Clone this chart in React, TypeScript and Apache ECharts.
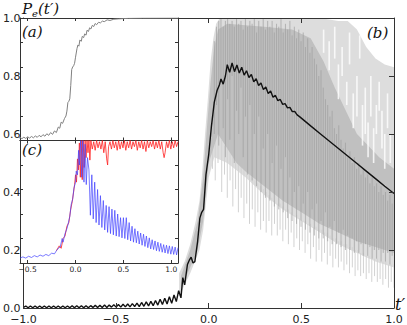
import React, { useEffect, useRef } from "react";
import * as echarts from "echarts";

// ---------- main panel (b) ----------
const mainXTicks = [-1.0, -0.5, 0.0, 0.5, 1.0];
const mainYTicks = [0.0, 0.2, 0.4, 0.6, 0.8, 1.0];

// mean curve (black)
const blackLine: number[][] = [
  [-1.0, 0.002], [-0.9875, 0.007], [-0.975, 0.001], [-0.9625, 0.007], [-0.95, 0.001], [-0.9375, 0.007],
  [-0.925, 0.001], [-0.9125, 0.007], [-0.9, 0.001], [-0.8875, 0.007], [-0.875, 0.001], [-0.8625, 0.007],
  [-0.85, 0.001], [-0.8375, 0.007], [-0.825, 0.001], [-0.8125, 0.007], [-0.8, 0.001], [-0.7875, 0.007],
  [-0.775, 0.001], [-0.7625, 0.007], [-0.75, 0.001], [-0.7375, 0.008], [-0.725, 0.001], [-0.7125, 0.008],
  [-0.7, 0.001], [-0.6875, 0.008], [-0.675, 0.001], [-0.6625, 0.008], [-0.65, 0.001], [-0.6375, 0.008],
  [-0.625, 0.002], [-0.6125, 0.009], [-0.6, 0.002], [-0.5875, 0.009], [-0.575, 0.002], [-0.5625, 0.010],
  [-0.55, 0.002], [-0.5375, 0.010], [-0.525, 0.003], [-0.5125, 0.011], [-0.5, 0.003], [-0.4875, 0.012],
  [-0.475, 0.003], [-0.4625, 0.013], [-0.45, 0.004], [-0.4375, 0.014], [-0.425, 0.004], [-0.4125, 0.015],
  [-0.4, 0.005], [-0.3875, 0.017], [-0.375, 0.005], [-0.3625, 0.019], [-0.35, 0.006], [-0.3375, 0.021],
  [-0.325, 0.007], [-0.3125, 0.023], [-0.3, 0.008], [-0.2875, 0.026], [-0.275, 0.010], [-0.2625, 0.030],
  [-0.25, 0.012], [-0.2375, 0.034], [-0.225, 0.014], [-0.2125, 0.039], [-0.2, 0.016], [-0.1875, 0.045],
  [-0.175, 0.022], [-0.1625, 0.06], [-0.15, 0.035], [-0.14, 0.105], [-0.13, 0.08], [-0.115, 0.15],
  [-0.105, 0.165], [-0.095, 0.175], [-0.085, 0.155], [-0.075, 0.16], [-0.06, 0.23], [-0.048, 0.31],
  [-0.038, 0.33], [-0.028, 0.34], [-0.015, 0.46], [0.0, 0.53], [0.015, 0.63], [0.03, 0.71],
  [0.045, 0.75], [0.058, 0.77], [0.066, 0.79], [0.078, 0.772], [0.09, 0.80], [0.1, 0.839],
  [0.113, 0.813], [0.126, 0.845], [0.139, 0.815], [0.152, 0.838], [0.165, 0.81], [0.178, 0.83],
  [0.191, 0.803], [0.204, 0.818], [0.217, 0.795], [0.23, 0.805], [0.243, 0.78], [0.256, 0.791],
  [0.269, 0.767], [0.282, 0.776], [0.295, 0.753], [0.308, 0.762], [0.321, 0.74], [0.334, 0.748],
  [0.347, 0.727], [0.36, 0.733], [0.373, 0.715], [0.386, 0.719], [0.399, 0.702], [0.412, 0.705],
  [0.425, 0.69], [0.438, 0.692], [0.451, 0.677], [0.464, 0.678], [0.477, 0.666], [0.49, 0.66],
  [0.55, 0.628], [0.6, 0.602], [0.65, 0.576], [0.7, 0.55], [0.75, 0.524], [0.8, 0.498],
  [0.85, 0.472], [0.9, 0.446], [0.95, 0.42], [1.0, 0.395],
];

// outline of the cloud of individual trajectories
const lightUpper: number[][] = [
  [-0.16, 0.12], [-0.13, 0.16], [-0.1, 0.22], [-0.07, 0.3], [-0.05, 0.37], [-0.035, 0.47], [-0.02, 0.6],
  [-0.005, 0.72], [0.01, 0.85], [0.025, 0.93], [0.04, 0.98], [0.06, 1.0], [0.6, 1.0], [0.7, 0.99],
  [0.75, 0.99], [0.8, 0.96], [0.85, 0.9], [0.9, 0.86], [0.95, 0.84], [1.0, 0.83],
];
const lightLower: number[][] = [
  [-0.16, 0.04], [-0.1, 0.12], [-0.05, 0.2], [-0.03, 0.27], [0.0, 0.45], [0.03, 0.52], [0.1, 0.5],
  [0.2, 0.45], [0.3, 0.39], [0.4, 0.34], [0.5, 0.3], [0.6, 0.26], [0.7, 0.22], [0.8, 0.19],
  [0.9, 0.16], [1.0, 0.14],
];
const midUpper: number[][] = [
  [-0.15, 0.11], [-0.1, 0.2], [-0.06, 0.3], [-0.03, 0.45], [-0.01, 0.62], [0.01, 0.78], [0.03, 0.9],
  [0.05, 0.96], [0.1, 0.98], [0.3, 0.97], [0.45, 0.96], [0.55, 0.93], [0.62, 0.85], [0.68, 0.76],
  [0.74, 0.68], [0.8, 0.6], [0.86, 0.56], [0.92, 0.52], [1.0, 0.48],
];
const midLower: number[][] = [
  [-0.15, 0.07], [-0.1, 0.14], [-0.06, 0.2], [-0.03, 0.3], [0.0, 0.5], [0.05, 0.6], [0.1, 0.55],
  [0.15, 0.5], [0.2, 0.47], [0.3, 0.42], [0.4, 0.37], [0.5, 0.33], [0.6, 0.29], [0.7, 0.26],
  [0.8, 0.23], [0.9, 0.21], [1.0, 0.19],
];
// dense vertical streaks [t, low, high]
const darkStreaks: number[][] = [
  [0.03, 0.6, 0.92], [0.042, 0.7, 0.97], [0.054, 0.56, 0.99], [0.066, 0.78, 1.0], [0.078, 0.62, 0.97],
  [0.09, 0.52, 0.99], [0.102, 0.72, 1.0], [0.114, 0.58, 0.98], [0.126, 0.8, 0.99], [0.138, 0.5, 0.97],
  [0.15, 0.68, 1.0], [0.162, 0.6, 0.98], [0.174, 0.76, 0.99], [0.186, 0.52, 0.96], [0.198, 0.66, 1.0],
  [0.21, 0.46, 0.97], [0.222, 0.7, 0.99], [0.234, 0.44, 0.98], [0.246, 0.6, 1.0], [0.258, 0.42, 0.95],
  [0.27, 0.66, 0.99], [0.282, 0.4, 0.97], [0.294, 0.55, 1.0], [0.306, 0.38, 0.96], [0.318, 0.6, 0.99],
  [0.33, 0.37, 0.97], [0.342, 0.5, 0.99], [0.354, 0.35, 0.95], [0.366, 0.56, 0.98], [0.378, 0.34, 0.97],
  [0.39, 0.48, 1.0], [0.402, 0.33, 0.95], [0.414, 0.52, 0.98], [0.426, 0.31, 0.96], [0.438, 0.45, 0.99],
  [0.45, 0.3, 0.94], [0.462, 0.4, 0.97], [0.474, 0.29, 0.93], [0.486, 0.42, 0.96], [0.498, 0.28, 0.92],
  [0.51, 0.36, 0.95], [0.522, 0.27, 0.9], [0.534, 0.4, 0.93], [0.546, 0.26, 0.88], [0.558, 0.34, 0.9],
  [0.57, 0.25, 0.86], [0.582, 0.36, 0.84], [0.594, 0.24, 0.8], [0.606, 0.3, 0.82], [0.618, 0.24, 0.76],
  [0.63, 0.33, 0.72], [0.642, 0.23, 0.7], [0.654, 0.28, 0.66], [0.666, 0.22, 0.68], [0.678, 0.3, 0.62],
  [0.69, 0.22, 0.6], [0.702, 0.26, 0.63], [0.714, 0.21, 0.58], [0.726, 0.27, 0.55], [0.738, 0.2, 0.57],
  [0.75, 0.25, 0.52], [0.762, 0.2, 0.54], [0.774, 0.24, 0.5], [0.786, 0.19, 0.52], [0.798, 0.23, 0.48],
  [0.81, 0.19, 0.5], [0.822, 0.22, 0.46], [0.834, 0.18, 0.48], [0.846, 0.22, 0.45], [0.858, 0.18, 0.46],
  [0.87, 0.21, 0.43], [0.882, 0.17, 0.45], [0.894, 0.2, 0.42], [0.906, 0.17, 0.43], [0.918, 0.2, 0.4],
  [0.93, 0.16, 0.42], [0.942, 0.19, 0.39], [0.954, 0.16, 0.4], [0.966, 0.19, 0.37], [0.978, 0.15, 0.39],
  [0.99, 0.18, 0.36],
];
// faint spikes that reach down to the lowest trajectories
const lightStreaks: number[][] = [
  [0.02, 0.48, 0.6], [0.035, 0.44, 0.6], [0.05, 0.5, 0.6], [0.07, 0.4, 0.58], [0.085, 0.46, 0.56],
  [0.1, 0.38, 0.55], [0.115, 0.44, 0.55], [0.13, 0.35, 0.52], [0.145, 0.41, 0.52], [0.16, 0.33, 0.5],
  [0.175, 0.38, 0.5], [0.19, 0.31, 0.48], [0.205, 0.36, 0.48], [0.22, 0.29, 0.46], [0.235, 0.34, 0.45],
  [0.25, 0.28, 0.44], [0.265, 0.33, 0.43], [0.28, 0.27, 0.42], [0.295, 0.3, 0.41], [0.31, 0.26, 0.4],
  [0.325, 0.3, 0.39], [0.34, 0.25, 0.38], [0.355, 0.29, 0.37], [0.37, 0.25, 0.36], [0.385, 0.27, 0.36],
  [0.4, 0.23, 0.35], [0.415, 0.27, 0.34], [0.43, 0.22, 0.34], [0.445, 0.26, 0.33], [0.46, 0.21, 0.32],
  [0.475, 0.24, 0.32], [0.49, 0.2, 0.31], [0.505, 0.23, 0.3], [0.52, 0.19, 0.3], [0.535, 0.22, 0.29],
  [0.55, 0.17, 0.29], [0.565, 0.21, 0.28], [0.58, 0.16, 0.28], [0.595, 0.2, 0.27], [0.61, 0.16, 0.27],
  [0.625, 0.19, 0.26], [0.64, 0.15, 0.26], [0.655, 0.18, 0.25], [0.67, 0.14, 0.24], [0.685, 0.17, 0.24],
  [0.7, 0.14, 0.23], [0.715, 0.16, 0.23], [0.73, 0.13, 0.22], [0.745, 0.15, 0.22], [0.76, 0.12, 0.21],
  [0.775, 0.14, 0.21], [0.79, 0.11, 0.2], [0.805, 0.13, 0.2], [0.82, 0.11, 0.19], [0.835, 0.12, 0.19],
  [0.85, 0.1, 0.18], [0.865, 0.12, 0.18], [0.88, 0.09, 0.17], [0.895, 0.11, 0.17], [0.91, 0.09, 0.17],
  [0.925, 0.1, 0.16], [0.94, 0.08, 0.16], [0.955, 0.1, 0.16], [0.97, 0.07, 0.15], [0.985, 0.09, 0.15],
  [1.0, 0.07, 0.15],
];
// empty gaps in the upper right part of the cloud
const gapStreaks: number[][] = [
  [0.62, 0.88, 0.96], [0.65, 0.82, 0.92], [0.68, 0.86, 0.97], [0.7, 0.72, 0.84], [0.72, 0.8, 0.9],
  [0.745, 0.7, 0.78], [0.76, 0.84, 0.95], [0.78, 0.62, 0.74], [0.8, 0.66, 0.8], [0.815, 0.86, 0.94],
  [0.83, 0.56, 0.7], [0.845, 0.6, 0.76], [0.86, 0.52, 0.64], [0.875, 0.66, 0.8], [0.89, 0.5, 0.62],
  [0.905, 0.6, 0.7], [0.92, 0.68, 0.78], [0.935, 0.55, 0.68], [0.95, 0.48, 0.6], [0.965, 0.62, 0.74],
  [0.98, 0.5, 0.6],
];

// ---------- inset (a) ----------
const insetXTicks = [-0.5, 0.0, 0.5, 1.0];
const insetA: number[][] = [
  [-0.6, 0.015], [-0.58, 0.025], [-0.56, 0.015], [-0.54, 0.027], [-0.52, 0.017], [-0.5, 0.03],
  [-0.48, 0.02], [-0.46, 0.033], [-0.44, 0.022], [-0.42, 0.037], [-0.4, 0.026], [-0.38, 0.042],
  [-0.36, 0.03], [-0.34, 0.048], [-0.32, 0.035], [-0.3, 0.055], [-0.28, 0.042], [-0.26, 0.065],
  [-0.24, 0.05], [-0.22, 0.078], [-0.2, 0.065], [-0.18, 0.11], [-0.165, 0.1], [-0.15, 0.15],
  [-0.135, 0.14], [-0.115, 0.18], [-0.1, 0.2], [-0.09, 0.24], [-0.08, 0.31], [-0.07, 0.32],
  [-0.06, 0.34], [-0.05, 0.45], [-0.04, 0.58], [-0.03, 0.6], [-0.02, 0.61], [-0.01, 0.63],
  [0.0, 0.68], [0.015, 0.75], [0.025, 0.78], [0.035, 0.77], [0.045, 0.82], [0.06, 0.81],
  [0.07, 0.85], [0.085, 0.84], [0.095, 0.87], [0.11, 0.86], [0.12, 0.9], [0.135, 0.89],
  [0.147, 0.92], [0.16, 0.91], [0.175, 0.94], [0.19, 0.93], [0.205, 0.955], [0.22, 0.945],
  [0.24, 0.965], [0.26, 0.96], [0.28, 0.975], [0.3, 0.97], [0.33, 0.985], [0.36, 0.98],
  [0.4, 0.99], [0.45, 0.993], [0.55, 0.997], [0.7, 0.999], [1.07, 1.0],
];

// ---------- inset (c) ----------
const insetCBlue: number[][] = [
  [-0.58, 0.04], [-0.55, 0.05], [-0.52, 0.04], [-0.49, 0.055], [-0.46, 0.045], [-0.43, 0.06],
  [-0.4, 0.05], [-0.37, 0.065], [-0.34, 0.055], [-0.31, 0.07], [-0.28, 0.06], [-0.25, 0.08],
  [-0.22, 0.075], [-0.2, 0.1], [-0.18, 0.12], [-0.16, 0.13], [-0.14, 0.2], [-0.13, 0.17],
  [-0.11, 0.24], [-0.09, 0.28], [-0.08, 0.31], [-0.06, 0.38], [-0.045, 0.48], [-0.03, 0.52],
  [-0.017, 0.61], [0.0, 0.66], [0.007, 0.75], [0.02, 0.72], [0.032, 0.92], [0.04, 0.8],
  [0.053, 1.0], [0.065, 0.7], [0.075, 1.0], [0.088, 0.66], [0.1, 0.97], [0.112, 0.64],
  [0.125, 0.86], [0.14, 0.76], [0.155, 0.39], [0.17, 0.72], [0.185, 0.36], [0.2, 0.66],
  [0.215, 0.33], [0.23, 0.6], [0.245, 0.31], [0.26, 0.55], [0.275, 0.29], [0.29, 0.51],
  [0.305, 0.27], [0.32, 0.47], [0.335, 0.25], [0.35, 0.46], [0.365, 0.24], [0.38, 0.44],
  [0.395, 0.23], [0.41, 0.43], [0.425, 0.22], [0.44, 0.4], [0.455, 0.215], [0.47, 0.37],
  [0.485, 0.205], [0.5, 0.37], [0.515, 0.2], [0.53, 0.37], [0.545, 0.19], [0.56, 0.33],
  [0.575, 0.18], [0.59, 0.3], [0.605, 0.17], [0.62, 0.28], [0.635, 0.165], [0.65, 0.26],
  [0.665, 0.155], [0.68, 0.245], [0.695, 0.145], [0.71, 0.235], [0.725, 0.135], [0.74, 0.22],
  [0.755, 0.125], [0.77, 0.205], [0.785, 0.115], [0.8, 0.19], [0.815, 0.11], [0.83, 0.18],
  [0.845, 0.1], [0.86, 0.17], [0.875, 0.095], [0.89, 0.16], [0.905, 0.088], [0.92, 0.15],
  [0.935, 0.082], [0.95, 0.145], [0.965, 0.077], [0.98, 0.14], [0.995, 0.072], [1.01, 0.135],
  [1.025, 0.07], [1.04, 0.13], [1.055, 0.066], [1.07, 0.125],
];
const insetCRed: number[][] = [
  [-0.2, 0.1], [-0.17, 0.14], [-0.15, 0.12], [-0.13, 0.2], [-0.11, 0.22], [-0.09, 0.3], [-0.07, 0.33],
  [-0.05, 0.44], [-0.035, 0.5], [-0.02, 0.58], [-0.01, 0.64], [0.0, 0.72], [0.01, 0.66], [0.02, 0.85],
  [0.03, 0.76], [0.04, 0.98], [0.05, 0.7], [0.06, 1.0], [0.07, 0.68], [0.08, 1.0], [0.09, 0.78],
  [0.1, 1.0], [0.11, 0.86], [0.12, 1.0], [0.13, 0.9], [0.14, 1.0], [0.15, 0.84], [0.16, 1.0],
  [0.175, 0.93], [0.19, 0.99], [0.205, 0.92], [0.22, 1.0], [0.235, 0.94], [0.25, 0.99], [0.265, 0.93],
  [0.28, 1.0], [0.295, 0.9], [0.31, 0.99], [0.325, 0.85], [0.335, 0.8], [0.345, 0.95], [0.36, 0.99],
  [0.375, 0.93], [0.39, 1.0], [0.405, 0.94], [0.42, 0.99], [0.435, 0.92], [0.45, 1.0], [0.465, 0.93],
  [0.48, 0.99], [0.495, 0.94], [0.51, 1.0], [0.525, 0.92], [0.54, 0.99], [0.555, 0.94], [0.57, 1.0],
  [0.585, 0.93], [0.6, 0.99], [0.615, 0.95], [0.63, 1.0], [0.645, 0.92], [0.66, 0.99], [0.675, 0.94],
  [0.69, 1.0], [0.705, 0.93], [0.72, 0.99], [0.735, 0.91], [0.75, 1.0], [0.765, 0.94], [0.78, 0.99],
  [0.795, 0.95], [0.81, 1.0], [0.825, 0.93], [0.84, 0.99], [0.855, 0.94], [0.87, 1.0], [0.885, 0.93],
  [0.9, 0.99], [0.915, 0.9], [0.925, 0.86], [0.935, 0.9], [0.95, 0.99], [0.965, 0.94], [0.98, 1.0],
  [0.995, 0.93], [1.01, 0.99], [1.025, 0.94], [1.04, 1.0], [1.055, 0.95], [1.07, 0.99],
];

const AX = "#333";
const minus = (v: number) => v.toFixed(1).replace("-", "\u2212");

function band(upper: number[][], lower: number[][], color: string, z: number) {
  return {
    type: "custom", xAxisIndex: 0, yAxisIndex: 0, z, silent: true, data: upper,
    renderItem: (params: any, api: any) => {
      if (params.dataIndex !== 0) return null;
      const pts = upper.map((p) => api.coord(p)).concat(lower.slice().reverse().map((p) => api.coord(p)));
      return { type: "polygon", shape: { points: pts }, style: { fill: color } };
    },
  };
}

function streaks(data: number[][], color: string, width: number, opacity: number, z: number) {
  return {
    type: "custom", xAxisIndex: 0, yAxisIndex: 0, z, silent: true, data,
    encode: { x: 0, y: [1, 2] },
    renderItem: (params: any, api: any) => {
      const a = api.coord([api.value(0), api.value(1)]);
      const b = api.coord([api.value(0), api.value(2)]);
      return {
        type: "line",
        shape: { x1: a[0], y1: a[1], x2: b[0], y2: b[1] },
        style: { stroke: color, lineWidth: width, opacity },
      };
    },
  };
}

function ax(grid: number, pos: string, min: number, max: number, extra: any, z: number) {
  return {
    type: "value", gridIndex: grid, position: pos, min, max, z,
    axisLine: { show: true, onZero: false, lineStyle: { color: AX, width: 1 } },
    axisTick: { show: true, inside: true, length: grid === 0 ? 5 : 3, lineStyle: { color: AX } },
    splitLine: { show: false },
    ...extra,
  };
}

export default function App() {
  const ref = useRef<HTMLDivElement>(null);
  useEffect(() => {
    if (!ref.current) return;
    const chart = echarts.init(ref.current, undefined, { renderer: "svg" });
    const serif = "'DejaVu Serif', serif";
    const noLabel = { axisLabel: { show: false } };
    const insetX = { splitNumber: 3 };
    const option: any = {
      animation: false,
      backgroundColor: "#fff",
      grid: [
        { left: 20, top: 18, right: 13, bottom: 16 },
        { left: 20, top: 18, width: 158, height: 122.5, show: true, backgroundColor: "#fff", borderWidth: 0, z: 10 },
        { left: 20, top: 140.5, width: 158, height: 122.5, show: true, backgroundColor: "#fff", borderWidth: 0, z: 10 },
      ],
      xAxis: [
        ax(0, "bottom", -1, 1, {
          interval: 0.5,
          axisLabel: { fontSize: 11, color: "#222", margin: 6, fontFamily: "DejaVu Sans", formatter: minus },
        }, 6),
        ax(0, "top", -1, 1, { interval: 0.5, ...noLabel }, 6),
        ax(1, "bottom", -0.58, 1.07, { ...insetX, ...noLabel }, 11),
        ax(1, "top", -0.58, 1.07, { ...insetX, ...noLabel }, 11),
        ax(2, "bottom", -0.58, 1.07, {
          ...insetX,
          axisLabel: { fontSize: 7.5, color: "#222", margin: 2, fontFamily: "DejaVu Sans", formatter: minus, showMinLabel: false, showMaxLabel: false },
        }, 11),
        ax(2, "top", -0.58, 1.07, { ...insetX, ...noLabel }, 11),
      ],
      yAxis: [
        ax(0, "left", 0, 1, {
          interval: 0.2,
          axisLabel: { fontSize: 11, color: "#222", margin: 3, fontFamily: "DejaVu Sans", formatter: minus },
        }, 6),
        ax(0, "right", 0, 1, { interval: 0.2, ...noLabel }, 6),
        ax(1, "left", 0, 1, { interval: 0.2, ...noLabel }, 11),
        ax(1, "right", 0, 1, { interval: 0.2, ...noLabel }, 11),
        ax(2, "left", 0, 1, { interval: 0.2, ...noLabel }, 11),
        ax(2, "right", 0, 1, { interval: 0.2, ...noLabel }, 11),
      ],
      series: [
        band(lightUpper, lightLower, "#dddddd", 2),
        streaks(lightStreaks, "#d2d2d2", 1, 1, 2),
        band(midUpper, midLower, "#c0c0c0", 3),
        streaks(darkStreaks, "#9d9d9d", 0.8, 0.85, 3),
        streaks(gapStreaks, "#ffffff", 1.6, 0.8, 3),
        {
          type: "line", xAxisIndex: 0, yAxisIndex: 0, data: blackLine, symbol: "none", z: 5,
          lineStyle: { color: "#111", width: 1.4 },
        },
        {
          type: "line", xAxisIndex: 2, yAxisIndex: 2, data: insetA, symbol: "none", z: 12,
          lineStyle: { color: "#808080", width: 1 },
        },
        {
          type: "line", xAxisIndex: 4, yAxisIndex: 4, data: insetCRed, symbol: "none", z: 12,
          lineStyle: { color: "#ff2020", width: 0.8 },
        },
        {
          type: "line", xAxisIndex: 4, yAxisIndex: 4, data: insetCBlue, symbol: "none", z: 13,
          lineStyle: { color: "#4040ff", width: 0.7 },
        },
      ],
      graphic: [
        { type: "text", left: 22, top: 1, z: 100, style: { text: "P", font: `italic 15px ${serif}`, fill: "#111" } },
        { type: "text", left: 32, top: 8, z: 100, style: { text: "e", font: `italic 10px ${serif}`, fill: "#111" } },
        { type: "text", left: 38, top: 1, z: 100, style: { text: "(t\u2032)", font: `italic 15px ${serif}`, fill: "#111" } },
        { type: "text", left: 395, top: 296, z: 100, style: { text: "t\u2032", font: `italic 16px ${serif}`, fill: "#111" } },
        { type: "text", left: 22, top: 24, z: 100, style: { text: "(a)", font: `italic 15px ${serif}`, fill: "#111" } },
        { type: "text", left: 367, top: 25, z: 100, style: { text: "(b)", font: `italic 15px ${serif}`, fill: "#111" } },
        { type: "text", left: 22, top: 142, z: 100, style: { text: "(c)", font: `italic 15px ${serif}`, fill: "#111" } },
      ],
    };
    chart.setOption(option);
    return () => chart.dispose();
  }, []);
  return <div ref={ref} style={{ width: 407, height: 325, position: "absolute", left: 0, top: 0 }} />;
}
